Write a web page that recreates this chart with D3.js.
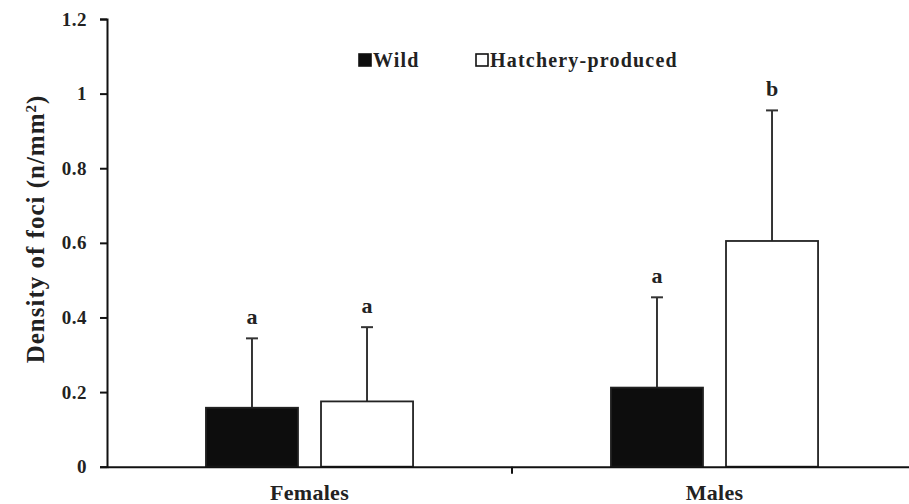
<!DOCTYPE html>
<html><head><meta charset="utf-8">
<script src="https://cdn.jsdelivr.net/npm/d3@7"></script>
<style>body{margin:0;background:#fff}svg{display:block}</style>
</head><body>
<script>
const categories = ["Females", "Males"];
const seriesNames = ["Wild", "Hatchery-produced"];
const wildMeans = [0.158, 0.212];
const wildErr = [0.186, 0.242];
const hatchMeans = [0.175, 0.605];
const hatchErr = [0.199, 0.350];
const wildLetters = ["a", "a"];
const hatchLetters = ["a", "b"];
const yTicks = [0, 0.2, 0.4, 0.6, 0.8, 1, 1.2];

const W = 909, H = 504;
const svg = d3.select("body").append("svg").attr("width", W).attr("height", H);
const font = "'Liberation Serif','Times New Roman',serif";

const y = d3.scaleLinear().domain([0, 1.2]).range([466.7, 19]);
const x0 = d3.scaleBand().domain(categories).range([107, 917]).paddingInner(0).paddingOuter(0);
const x1 = d3.scaleBand().domain(seriesNames).range([0, x0.bandwidth()]).paddingInner(0.2).paddingOuter(0.86);

const data = [];
categories.forEach((c, i) => {
  data.push({cat: c, s: seriesNames[0], v: wildMeans[i], e: wildErr[i], l: wildLetters[i]});
  data.push({cat: c, s: seriesNames[1], v: hatchMeans[i], e: hatchErr[i], l: hatchLetters[i]});
});

// error bars (upper)
const eb = svg.append("g");
data.forEach(d => {
  const cx = x0(d.cat) + x1(d.s) + x1.bandwidth() / 2;
  eb.append("line").attr("x1", cx).attr("x2", cx).attr("y1", y(d.v)).attr("y2", y(d.v + d.e))
    .attr("stroke", "#333").attr("stroke-width", 2);
  eb.append("line").attr("x1", cx - 6).attr("x2", cx + 6).attr("y1", y(d.v + d.e)).attr("y2", y(d.v + d.e))
    .attr("stroke", "#333").attr("stroke-width", 2);
  svg.append("text").attr("x", cx).attr("y", y(d.v + d.e) - 14).attr("text-anchor", "middle")
    .attr("font-family", font).attr("font-weight", "bold").attr("font-size", 22).attr("fill", "#222").text(d.l);
});

// bars
svg.append("g").selectAll("rect").data(data).join("rect")
  .attr("x", d => x0(d.cat) + x1(d.s))
  .attr("width", x1.bandwidth())
  .attr("y", d => y(d.v))
  .attr("height", d => y(0) - y(d.v))
  .attr("fill", d => d.s === "Wild" ? "#0d0d0d" : "#fff")
  .attr("stroke", "#222").attr("stroke-width", 1.8);

// y axis
const yAxis = svg.append("g").attr("transform", "translate(107,0)")
  .call(d3.axisLeft(y).tickValues(yTicks).tickSize(7).tickPadding(13).tickFormat(d => d3.format("")(d)));
yAxis.select(".domain").attr("stroke", "#111").attr("stroke-width", 2);
yAxis.selectAll(".tick line").attr("stroke", "#111").attr("stroke-width", 2);
yAxis.selectAll("text").attr("font-family", font).attr("font-weight", "bold").attr("font-size", 19)
  .attr("letter-spacing", 0.5).attr("fill", "#222");

// x axis
const xAxis = svg.append("g").attr("transform", `translate(0,${y(0)})`)
  .call(d3.axisBottom(x0).tickSize(0).tickPadding(18));
xAxis.select(".domain").attr("stroke", "#111").attr("stroke-width", 2);
xAxis.selectAll("text").attr("font-family", font).attr("font-weight", "bold").attr("font-size", 22)
  .attr("letter-spacing", 0.3).attr("fill", "#222");
// separator tick between categories
xAxis.append("line").attr("x1", x0("Males")).attr("x2", x0("Males")).attr("y1", 0).attr("y2", 7)
  .attr("stroke", "#111").attr("stroke-width", 2);

// y axis title
svg.append("text").attr("transform", "translate(44,229) rotate(-90)").attr("text-anchor", "middle")
  .attr("font-family", font).attr("font-weight", "bold").attr("font-size", 25).attr("letter-spacing", 1)
  .attr("fill", "#222")
  .html('Density of foci (n/mm<tspan baseline-shift="super" font-size="15">2</tspan>)');

// legend
const legendX = [359, 476];
seriesNames.forEach((s, i) => {
  const g = svg.append("g").attr("transform", `translate(${legendX[i]},54)`);
  g.append("rect").attr("x", 0).attr("y", 0).attr("width", 12).attr("height", 12)
    .attr("fill", i === 0 ? "#0d0d0d" : "#fff").attr("stroke", "#111").attr("stroke-width", 1.6);
  g.append("text").attr("x", 14).attr("y", 13).attr("font-family", font).attr("font-weight", "bold")
    .attr("font-size", 20).attr("letter-spacing", 1.2).attr("fill", "#222").text(s);
});
</script>
</body></html>
